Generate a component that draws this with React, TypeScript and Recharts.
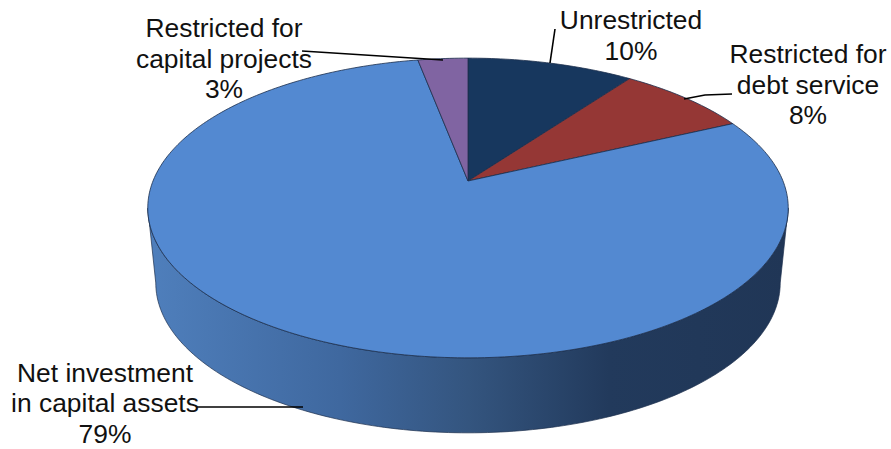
import React from 'react';
import { PieChart, Pie, Cell } from 'recharts';

const CATEGORIES = ['Unrestricted', 'Restricted for debt service', 'Net investment in capital assets', 'Restricted for capital projects'];
const SHARES = [10, 8, 79, 3];
const SLICE_COLORS = ['#17375e', '#953735', '#5389d1', '#8064a2'];

// how each category name wraps in its callout
const LABEL_LINES = [
  ['Unrestricted'],
  ['Restricted for', 'debt service'],
  ['Net investment', 'in capital assets'],
  ['Restricted for', 'capital projects'],
];

const FONT_SIZE = 26.4;
const LINE_STEP = 30.7;

// callout text centre, first baseline and leader line per slice
const CALLOUTS = [
  { x: 631, y: 29, leader: 'M555 29 L550 63' },
  { x: 808, y: 63, leader: 'M732 94 L705 95 L684 99' },
  { x: 105, y: 381.5, leader: 'M197 407 L303 407' },
  { x: 224, y: 37, leader: 'M302 51 L443 60' },
];

const WIDTH = 891;
const HEIGHT = 449;
const CX = 468;
const CY = 181;
const RADIUS = 315;

// tilted disc: perspective makes the near half larger than the far half
const TILT = 145;
const PERSPECTIVE = 0.18;
const DEPTH = 75;
const FOOT_SCALE = 0.975;

const RAD = Math.PI / 180;

const project = (deg: number, cx: number, cy: number, r: number, scale = 1, drop = 0) => {
  const u = Math.cos(deg * RAD);
  const v = Math.sin(deg * RAD);
  const w = 1 + PERSPECTIVE * v;
  return [cx + (scale * r * u) / w, cy + drop - (TILT * v) / w];
};

const arcPoints = (from: number, to: number, cx: number, cy: number, r: number, scale = 1, drop = 0) => {
  const steps = Math.max(2, Math.ceil(Math.abs(to - from)));
  const pts: number[][] = [];
  for (let i = 0; i <= steps; i++) {
    pts.push(project(from + ((to - from) * i) / steps, cx, cy, r, scale, drop));
  }
  return pts;
};

const toPath = (pts: number[][]) => pts.map((p, i) => `${i ? 'L' : 'M'}${p[0].toFixed(2)} ${p[1].toFixed(2)}`).join(' ');

// angles of the disc silhouette, the wall is only visible between them
const TANGENT = Math.asin(PERSPECTIVE) / RAD;
const WALL_START = -TANGENT;
const WALL_END = -180 + TANGENT;

const Slice3D = (props: any) => {
  const { cx, cy, outerRadius, startAngle, endAngle, fill } = props;
  const hi = Math.max(startAngle, endAngle);
  const lo = Math.min(startAngle, endAngle);
  const wallFrom = Math.min(hi, WALL_START);
  const wallTo = Math.max(lo, WALL_END);
  const top = arcPoints(startAngle, endAngle, cx, cy, outerRadius);

  let wall = null;
  if (wallFrom > wallTo) {
    const upper = arcPoints(wallFrom, wallTo, cx, cy, outerRadius);
    const lower = arcPoints(wallTo, wallFrom, cx, cy, outerRadius, FOOT_SCALE, DEPTH);
    wall = <path d={`${toPath(upper)} ${toPath(lower).replace('M', 'L')} Z`} fill="url(#wallShade)" stroke="#1c2f4d" strokeWidth={0.7} />;
  }

  return (
    <g>
      {wall}
      <path d={`M${cx} ${cy} ${toPath(top).replace('M', 'L')} Z`} fill={fill} stroke="#1c2f4d" strokeWidth={0.8} strokeLinejoin="round" />
    </g>
  );
};

const renderCallout = (props: any) => {
  const { index, percent } = props;
  const spot = CALLOUTS[index];
  const lines = [...LABEL_LINES[index], `${Math.round(percent * 100)}%`];
  return (
    <g key={CATEGORIES[index]}>
      <path d={spot.leader} fill="none" stroke="#000" strokeWidth={1.6} />
      <text x={spot.x} y={spot.y} textAnchor="middle" fontFamily="'Liberation Sans', Arial, sans-serif" fontSize={FONT_SIZE} fill="#111">
        {lines.map((line, i) => (
          <tspan key={line} x={spot.x} y={spot.y + i * LINE_STEP}>
            {line}
          </tspan>
        ))}
      </text>
    </g>
  );
};

const chartData = CATEGORIES.map((name, i) => ({ name, value: SHARES[i] }));

export default function App() {
  return (
    <div style={{ position: 'absolute', left: 0, top: 0, width: WIDTH, height: HEIGHT, background: '#fff' }}>
      <PieChart width={WIDTH} height={HEIGHT} margin={{ top: 0, right: 0, bottom: 0, left: 0 }}>
        <defs>
          <linearGradient id="wallShade" gradientUnits="userSpaceOnUse" x1={148} y1={0} x2={788} y2={0}>
            <stop offset="0" stopColor="#4f7fbc" />
            <stop offset="0.3" stopColor="#3f689f" />
            <stop offset="0.5" stopColor="#34557f" />
            <stop offset="0.72" stopColor="#223a5c" />
            <stop offset="1" stopColor="#203656" />
          </linearGradient>
        </defs>
        <Pie
          data={chartData}
          dataKey="value"
          nameKey="name"
          cx={CX}
          cy={CY}
          innerRadius={0}
          outerRadius={RADIUS}
          startAngle={90}
          endAngle={-270}
          shape={Slice3D}
          label={renderCallout}
          labelLine={false}
          isAnimationActive={false}
        >
          {chartData.map((entry, index) => (
            <Cell key={entry.name} fill={SLICE_COLORS[index]} />
          ))}
        </Pie>
      </PieChart>
    </div>
  );
}
